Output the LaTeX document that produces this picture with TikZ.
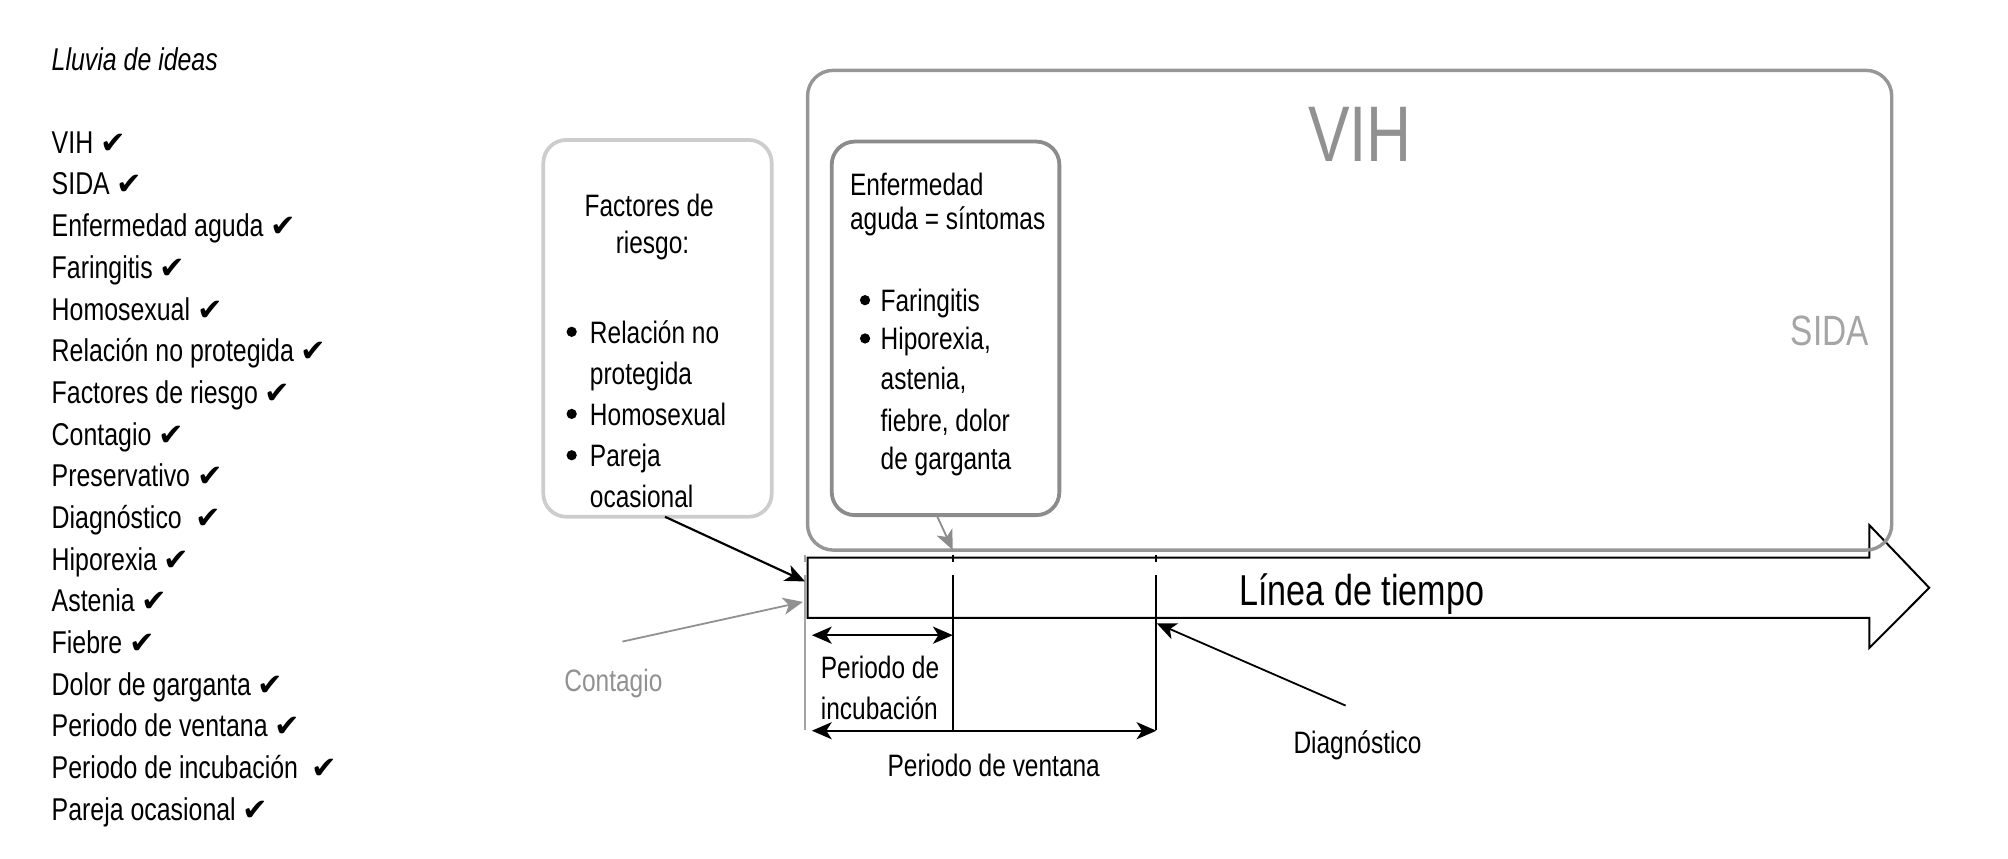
\documentclass[tikz,border=0pt]{standalone}
\usepackage{fontspec}
\setmainfont{Liberation Sans}[FakeStretch=0.79]
\newfontfamily\ckfont{DejaVu Sans}
\usetikzlibrary{arrows.meta}
\definecolor{vihgray}{RGB}{150,150,150}
\definecolor{factgray}{RGB}{205,205,205}
\definecolor{enfgray}{RGB}{140,140,140}
\definecolor{txtgray}{RGB}{145,145,145}
\definecolor{sidagray}{RGB}{165,165,165}
\newcommand{\ck}{{\ckfont\fontsize{17}{17}\selectfont ✔}}
\begin{document}
\begin{tikzpicture}[x=0.025cm, y=-0.025cm,
  lbl/.style={inner sep=0, outer sep=0, anchor=base west, font=\fontsize{17.2}{21}\selectfont},
  lblc/.style={lbl, anchor=base},
  itm/.style={lbl, font=\fontsize{17.5}{21}\selectfont},
  bx/.style={draw, rounded corners=0.45cm, line width=2.1pt, inner sep=0, outer sep=0},
  bul/.style={circle, fill, inner sep=0, minimum size=0.2cm},
  tipped/.style={-{Stealth[length=11pt, width=9.5pt, inset=3pt]}},
  dtipped/.style={{Stealth[length=11pt, width=9.5pt, inset=3pt]}-{Stealth[length=11pt, width=9.5pt, inset=3pt]}},
  blk/.style={line width=1.1pt},
  tick/.style={dash pattern=on 0.15cm off 0.25cm on 5cm off 1cm}
]
\useasboundingbox (0,0) rectangle (1568,670);

% ---- left list ----
\node[itm, font=\fontsize{17.5}{21}\selectfont\itshape] (lluvia) at (40.4,55.2) {Lluvia de ideas};
\foreach \t [count=\i from 0] in {
  {VIH \ck}, {SIDA \ck}, {Enfermedad aguda \ck}, {Faringitis \ck},
  {Homosexual \ck}, {Relación no protegida \ck}, {Factores de riesgo \ck},
  {Contagio \ck}, {Preservativo \ck}, {Diagnóstico\ \ \ck}, {Hiporexia \ck},
  {Astenia \ck}, {Fiebre\ \ck}, {Dolor de garganta\ \ck}, {Periodo de ventana \ck},
  {Periodo de incubación\ \ \ck}, {Pareja ocasional \ck}}
  \node[itm] (item\i) at (40.4,119.7+32.55*\i) {\t};

% ---- timeline arrow ----
\node[inner sep=0, outer sep=0, minimum width=20.725cm, minimum height=1.175cm] (tl) at (1045.2,459) {};
\coordinate (hu) at (1459.7,410);
\coordinate (hd) at (1459.7,506);
\coordinate (tltip) at (1506.5,459);
\draw[blk, line join=miter] (tl.north west) -- (tl.north east) -- (hu) -- (tltip) -- (hd) -- (tl.south east) -- (tl.south west) -- cycle;
\node[lbl, font=\fontsize{24}{28}\selectfont] (tltext) at (967.7,473) {Línea de tiempo};

% ---- boxes ----
\node[bx, draw=vihgray, line width=1.9pt, rounded corners=0.5cm, minimum width=21.16cm, minimum height=9.3625cm] (vih) at (1053.9,242.25) {};
\node[bx, draw=factgray, minimum width=4.4575cm, minimum height=7.355cm] (fact) at (513.45,256.4) {};
\node[bx, draw=enfgray, minimum width=4.4425cm, minimum height=7.29cm] (enf) at (738.35,256.4) {};

\node[lblc, font=\fontsize{43.8}{50}\selectfont, text=txtgray] (vihlbl) at (1062,126.3) {VIH};
\node[lblc, font=\fontsize{23.5}{28}\selectfont, text=sidagray] (sida) at (1429,270) {SIDA};

% Factores text
\node[lblc] (f1) at (507,168.7) {Factores de};
\node[lblc] (f2) at (509.5,197.6) {riesgo:};
\node[bul] (fb1) at (446.4,259.1) {};
\node[lbl] (f3) at (460.7,268) {Relación no};
\node[lbl] (f4) at (460.7,300) {protegida};
\node[bul] (fb2) at (446.4,323.2) {};
\node[lbl] (f5) at (460.7,332.2) {Homosexual};
\node[bul] (fb3) at (446.4,355.5) {};
\node[lbl] (f6) at (460.7,364.5) {Pareja};
\node[lbl] (f7) at (460.7,396.5) {ocasional};

% Enfermedad text
\node[lbl] (e1) at (663.8,152.3) {Enfermedad};
\node[lbl] (e2) at (663.8,179.6) {aguda = síntomas};
\node[bul] (eb1) at (675.5,234.4) {};
\node[lbl] (e3) at (687.7,243.4) {Faringitis};
\node[bul] (eb2) at (675.5,264.3) {};
\node[lbl] (e4) at (687.7,273.3) {Hiporexia,};
\node[lbl] (e5) at (687.7,304.5) {astenia,};
\node[lbl] (e6) at (687.7,337.1) {fiebre, dolor};
\node[lbl] (e7) at (687.7,367) {de garganta};

% ---- ticks on timeline ----
\coordinate (v0t) at (628.6,433); \coordinate (v0b) at (628.6,570);
\coordinate (v1t) at (744,433);   \coordinate (v1b) at (744,570);
\coordinate (v2t) at (903,433);   \coordinate (v2b) at (903,570);
\draw[line width=0.9pt, draw=sidagray, tick] (v0t) -- (v0b);
\draw[blk, tick] (v1t) -- (v1b);
\draw[blk, tick] (v2t) -- (v2b);

% ---- periods ----
\coordinate (incl) at (634,496); \coordinate (incr) at (744,496);
\coordinate (venl) at (634,570.6); \coordinate (venr) at (903,570.6);
\draw[blk, dtipped] (incl) -- (incr);
\draw[blk, dtipped] (venl) -- (venr);
\node[lbl] (p1) at (641,529.6) {Periodo de};
\node[lbl] (p2) at (641,562) {incubación};
\node[lblc] (p3) at (776,606.6) {Periodo de ventana};

% ---- connectors ----
\coordinate (tin1) at (628.6,454);
\coordinate (tin2) at (627,470);
\coordinate (tenf) at (744,429.5);
\coordinate (tdiag) at (903.2,486.7);
\coordinate (cstart) at (486,501);
\coordinate (dstart) at (1050.8,551);
\draw[line width=1.2pt, tipped] ([xshift=0.146cm]fact.south) -- (tin1);
\draw[line width=1pt, draw=enfgray, fill=enfgray, tipped] ([xshift=-0.174cm]enf.south) -- (tenf);
\draw[line width=1pt, draw=txtgray, fill=txtgray, tipped] (cstart) -- (tin2);
\draw[line width=1pt, tipped] (dstart) -- (tdiag);

\node[lblc, text=txtgray] (contagio) at (479,540) {Contagio};
\node[lblc] (diag) at (1060,588) {Diagnóstico};
\end{tikzpicture}
\end{document}
